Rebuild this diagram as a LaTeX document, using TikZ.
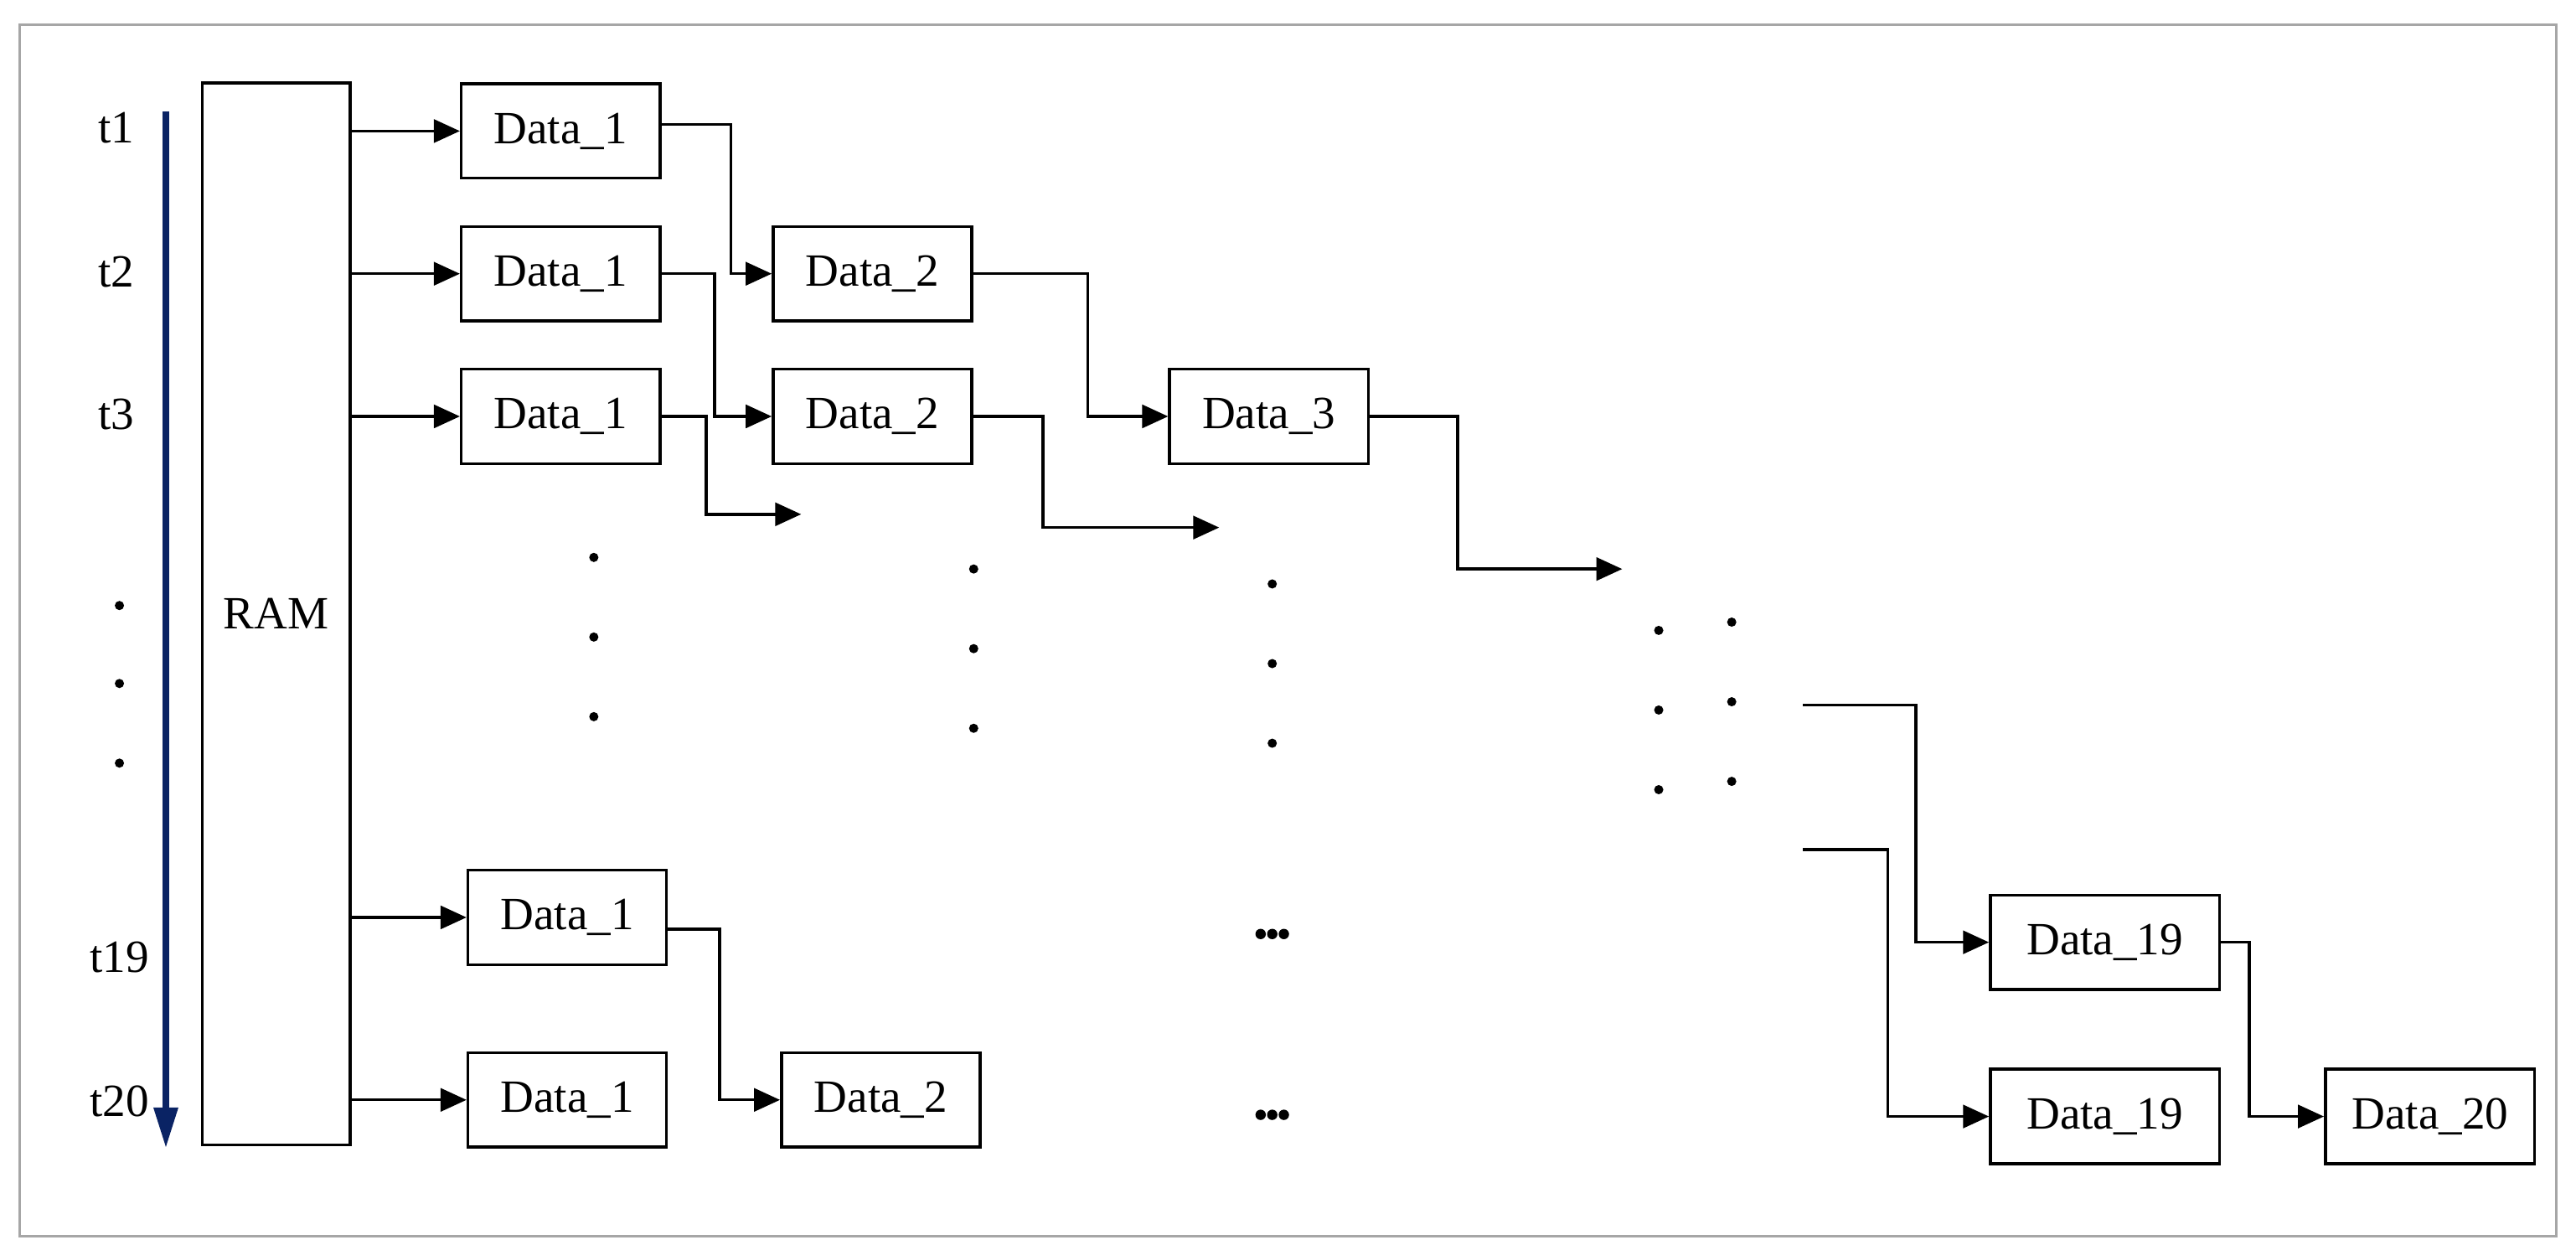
\documentclass[tikz,border=0pt]{standalone}
\usepackage{fontspec}
\setmainfont{Liberation Serif}
\usetikzlibrary{arrows.meta}
\definecolor{navy}{RGB}{10,35,100}
\tikzset{
  box/.style={draw, line width=1pt, minimum width=2.42cm, minimum height=1.15cm, inner sep=0pt, font=\fontsize{16}{18}\selectfont},
  wbox/.style={box, minimum width=2.79cm},
  flow/.style={line width=1pt, -{Triangle[length=9pt,width=8pt]}},
  lbl/.style={font=\fontsize{16}{18}\selectfont}
}
\begin{document}
\begin{tikzpicture}[x=0.0202cm,y=-0.0202cm]
\useasboundingbox (0,0) rectangle (1553,747);
\draw[gray!70, line width=0.8pt] (12,15) rectangle (1541,745);

% time axis
\draw[navy, line width=2.2pt, -{Triangle[length=14pt,width=8pt]}] (100,67) -- (100,692);
\node[lbl] (t1) at (70,77) {t1};
\node[lbl] (t2) at (70,164) {t2};
\node[lbl] (t3) at (70,250) {t3};
\node[lbl] (t19) at (72,577) {t19};
\node[lbl] (t20) at (72,664) {t20};
\foreach \y in {365,412,460} \fill (72,\y) circle (1.6pt);

% memory
\node[box, minimum width=1.8cm, minimum height=12.93cm] (ram) at (166.5,370) {RAM};

% first stage
\node[box] (d11) at (338,79) {Data\_1};
\node[box] (d21) at (338,165) {Data\_1};
\node[box] (d31) at (338,251) {Data\_1};
\node[box] (d191) at (342,553) {Data\_1};
\node[box] (d201) at (342,663) {Data\_1};
\foreach \n in {d11,d21,d31,d191,d201}
  \draw[flow] (ram.east |- \n.west) -- (\n.west);

% second stage
\node[box] (d22) at (526,165) {Data\_2};
\node[box] (d32) at (526,251) {Data\_2};
\node[box] (d202) at (531,663) {Data\_2};
\node[box] (d33) at (765,251) {Data\_3};

\coordinate (e31) at (483,310);
\coordinate (e32) at (735,318);
\coordinate (e33) at (978,343);
\draw[flow] (d11.east) ++(0,-4) -- ++(42,0) |- (d22.west);
\draw[flow] (d21.east) -- ++(32,0) |- (d32.west);
\draw[flow] (d31.east) -- ++(27,0) |- (e31);
\draw[flow] (d22.east) -- ++(69,0) |- (d33.west);
\draw[flow] (d32.east) -- ++(42,0) |- (e32);
\draw[flow] (d33.east) -- ++(53,0) |- (e33);
\draw[flow] (d191.east) ++(0,7) -- ++(31,0) |- (d202.west);

% omitted rows
\foreach \x/\y in {358/336,587/343,767/352,1000/380,1044/375}
  \foreach \k in {0,48,96} \fill (\x,\y+\k) circle (1.6pt);
\foreach \y in {563,672}
  \foreach \k in {-7,0,7} \fill (767+\k,\y) circle (1.8pt);

% last stages
\node[wbox] (d1919) at (1269,568) {Data\_19};
\node[wbox] (d2019) at (1269,673) {Data\_19};
\node[box, minimum width=2.55cm] (d2020) at (1465,673) {Data\_20};
\coordinate (s1) at (1087,425);
\coordinate (s2) at (1087,512);
\draw[flow] (s1) -- (1155,425) |- (d1919.west);
\draw[flow] (s2) -- (1138,512) |- (d2019.west);
\draw[flow] (d1919.east) -- ++(17,0) |- (d2020.west);
\end{tikzpicture}
\end{document}
